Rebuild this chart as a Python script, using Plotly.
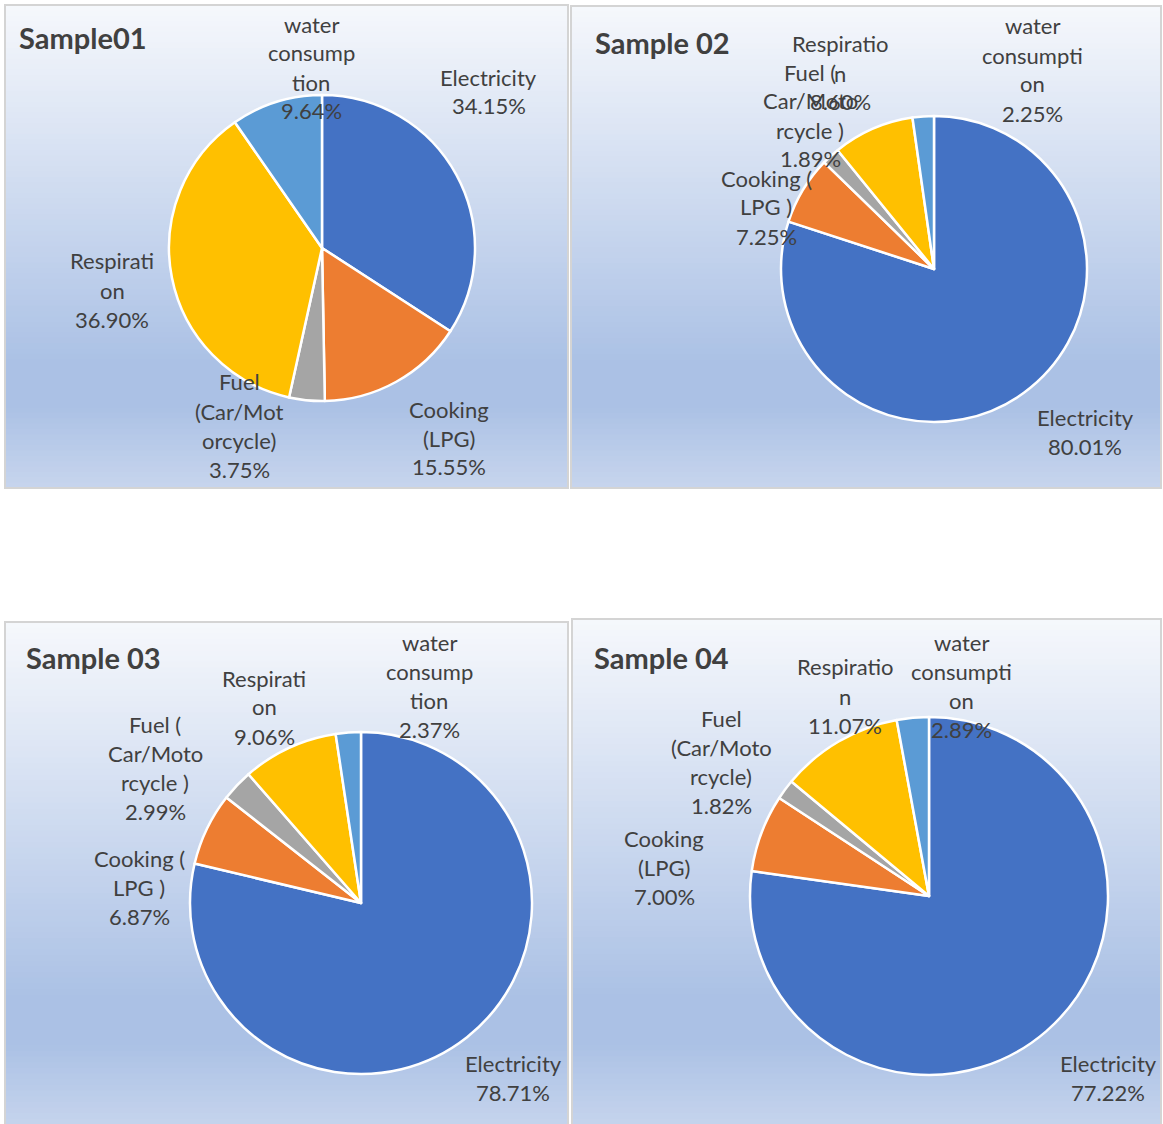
import plotly.graph_objects as go

W, H = 1163, 1124

categories = ["Electricity", "Cooking (LPG)", "Fuel (Car/Motorcycle)", "Respiration", "water consumption"]
slice_colors = ["#4472C4", "#ED7D31", "#A5A5A5", "#FFC000", "#5B9BD5"]

sample_titles = ["Sample01", "Sample 02", "Sample 03", "Sample 04"]
sample01 = [34.15, 15.55, 3.75, 36.90, 9.64]
sample02 = [80.01, 7.25, 1.89, 8.60, 2.25]
sample03 = [78.71, 6.87, 2.99, 9.06, 2.37]
sample04 = [77.22, 7.00, 1.82, 11.07, 2.89]

# Category names as they wrap beside each pie
labels01 = [["Electricity"], ["Cooking", "(LPG)"], ["Fuel", "(Car/Mot", "orcycle)"], ["Respirati", "on"], ["water", "consump", "tion"]]
labels02 = [["Electricity"], ["Cooking (", "LPG )"], ["Fuel (", "Car/Moto", "rcycle )"], ["Respiratio", "n"], ["water", "consumpti", "on"]]
labels03 = [["Electricity"], ["Cooking (", "LPG )"], ["Fuel (", "Car/Moto", "rcycle )"], ["Respirati", "on"], ["water", "consump", "tion"]]
labels04 = [["Electricity"], ["Cooking", "(LPG)"], ["Fuel", "(Car/Moto", "rcycle)"], ["Respiratio", "n"], ["water", "consumpti", "on"]]

samples = [sample01, sample02, sample03, sample04]
wrapped = [labels01, labels02, labels03, labels04]

# Panel geometry in pixels: frame box, title anchor, pie centre/radius, label anchors
panels = [
    dict(box=(5, 5, 568, 488), title=(17, 37), center=(322, 248), r=153,
         labels=[(489, 77), (449, 409), (239, 382), (112, 261), (311, 24)]),
    dict(box=(571, 6, 1161, 488), title=(593, 43), center=(934, 269), r=153,
         labels=[(1085, 417), (766, 178), (810, 72), (840, 44), (1032, 26)]),
    dict(box=(5, 622, 568, 1130), title=(24, 658), center=(361, 903), r=171,
         labels=[(513, 1063), (139, 858), (155, 724), (264, 678), (429, 642)]),
    dict(box=(572, 619, 1161, 1130), title=(592, 657), center=(929, 896), r=179,
         labels=[(1108, 1063), (664, 838), (721, 718), (845, 667), (961, 642)]),
]

LINE_GAP = 29
LABEL_FONT = dict(family="Lato, 'Open Sans', sans-serif", size=22, color="#404040")
TITLE_FONT = dict(family="Lato, 'Open Sans', sans-serif", size=29, color="#404040")

# Light accent gradient used as the chart-area fill
grad_stops = [(0.0, (246, 248, 252)), (0.74, (171, 193, 229)), (0.83, (171, 193, 229)), (1.0, (199, 213, 237))]


def px(x):
    return x / W


def py(y):
    return 1 - y / H


def grad_color(t):
    for (t0, c0), (t1, c1) in zip(grad_stops[:-1], grad_stops[1:]):
        if t <= t1:
            f = 0 if t1 == t0 else (t - t0) / (t1 - t0)
            c = [round(a + (b - a) * f) for a, b in zip(c0, c1)]
            return "rgb({},{},{})".format(*c)
    return "rgb({},{},{})".format(*grad_stops[-1][1])


fig = go.Figure()
shapes = []
annotations = []
N_BANDS = 90

for i, p in enumerate(panels):
    x0, y0, x1, y1 = p["box"]
    # gradient fill made of thin horizontal bands
    for k in range(N_BANDS):
        ya = y0 + (y1 - y0) * k / N_BANDS
        yb = y0 + (y1 - y0) * (k + 1) / N_BANDS + 0.8
        shapes.append(dict(type="rect", xref="paper", yref="paper", layer="below",
                           x0=px(x0), x1=px(x1), y0=py(min(yb, y1)), y1=py(ya),
                           fillcolor=grad_color((k + 0.5) / N_BANDS), line=dict(width=0)))
    shapes.append(dict(type="rect", xref="paper", yref="paper", layer="below",
                       x0=px(x0), x1=px(x1), y0=py(y1), y1=py(y0),
                       fillcolor="rgba(0,0,0,0)", line=dict(color="#D4D4D4", width=2)))

    cx, cy = p["center"]
    r = p["r"]
    fig.add_trace(go.Pie(
        values=samples[i], labels=categories, sort=False, direction="clockwise", rotation=0,
        marker=dict(colors=slice_colors, line=dict(color="white", width=2.5)),
        textinfo="none", hoverinfo="label+percent", showlegend=False,
        domain=dict(x=[px(cx - r), px(cx + r)], y=[py(cy + r), py(cy - r)]),
    ))

    tx, ty = p["title"]
    annotations.append(dict(text="<b>%s</b>" % sample_titles[i], x=px(tx), y=py(ty),
                            xref="paper", yref="paper", xanchor="left", yanchor="middle",
                            showarrow=False, font=TITLE_FONT))

    for j, (lx, ly) in enumerate(p["labels"]):
        lines = wrapped[i][j] + ["%.2f%%" % samples[i][j]]
        for n, line in enumerate(lines):
            annotations.append(dict(text=line, x=px(lx), y=py(ly + n * LINE_GAP),
                                    xref="paper", yref="paper", xanchor="center", yanchor="middle",
                                    showarrow=False, font=LABEL_FONT))

fig.update_layout(
    width=W, height=H,
    margin=dict(l=0, r=0, t=0, b=0),
    paper_bgcolor="white", plot_bgcolor="white",
    shapes=shapes, annotations=annotations,
)

fig.write_html("out.html")
